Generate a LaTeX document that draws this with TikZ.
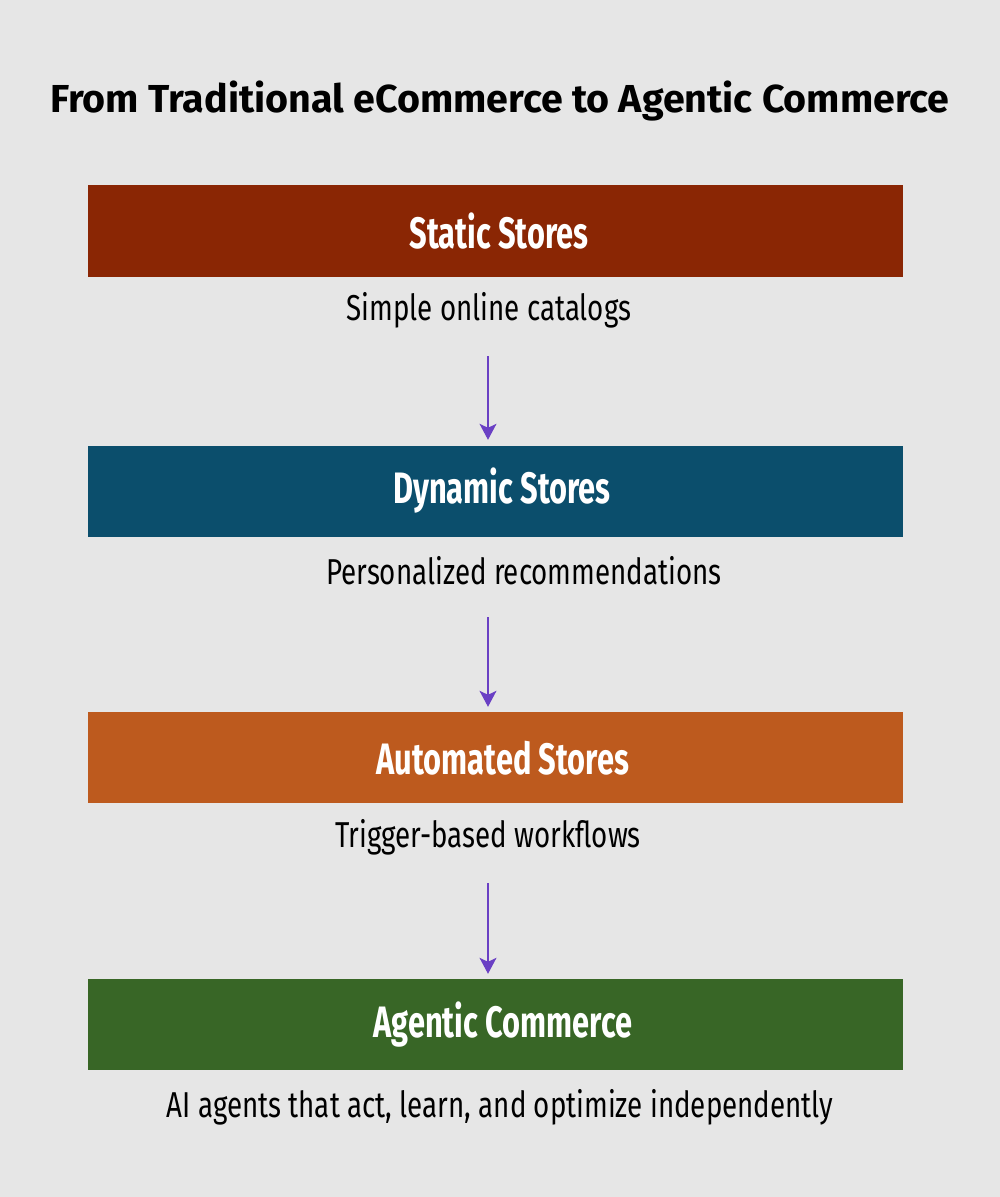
\documentclass[tikz,border=0pt]{standalone}
\usepackage{fontspec}
\setmainfont{Fira Sans}[FakeStretch=0.7]
\newfontfamily\headfont{Fira Sans}[FakeStretch=1.01]
\newfontfamily\notefont{Fira Sans}[FakeStretch=0.77]
\usetikzlibrary{arrows.meta}

\definecolor{bgGray}{RGB}{230,230,230}
\definecolor{staticRed}{RGB}{138,38,4}
\definecolor{dynamicBlue}{RGB}{11,78,108}
\definecolor{autoOrange}{RGB}{189,90,30}
\definecolor{agenticGreen}{RGB}{56,102,38}
\definecolor{flowPurple}{RGB}{106,64,196}

\tikzset{
  stage/.style={minimum width=815, minimum height=92, inner sep=0, text=white,
    font=\fontsize{44}{48}\selectfont\bfseries},
  caption/.style={inner sep=0, text=black, font=\notefont\fontsize{36}{40}\selectfont},
  flow/.style={draw=flowPurple, line width=1.3, -{Stealth[length=16,width=17,inset=4]}}
}

\begin{document}
\begin{tikzpicture}[x=1pt,y=1pt,yscale=-1,xscale=1]
%set diagram to the size of the reference
\useasboundingbox (0,0) rectangle (1000,1197);
\fill[bgGray] (0,0) rectangle (1000,1197);

% Title
\node (title) at (500,101) [font=\headfont\fontsize{39}{43}\selectfont\bfseries] {From Traditional eCommerce to Agentic Commerce};

% Stage boxes
\fill[staticRed] (88,185) rectangle (903,277);
\node (static) at (499,231) [stage] {Static Stores};
\fill[dynamicBlue] (88,446) rectangle (903,537);
\node (dynamic) at (502,491) [stage] {Dynamic Stores};
\fill[autoOrange] (88,712) rectangle (903,803);
\node (auto) at (503,758) [stage] {Automated Stores};
\fill[agenticGreen] (88,979) rectangle (903,1070);
\node (agentic) at (503,1025) [stage] {Agentic Commerce};

% Text Node
\node (staticTxt) at (489,310) [caption] {Simple online catalogs};
% Text Node
\node (dynamicTxt) at (524,571) [caption] {Personalized recommendations};
% Text Node
\node (autoTxt) at (488,837) [caption] {Trigger-based workflows};
% Text Node
\node (agenticTxt) at (500,1107) [caption] {AI agents that act, learn, and optimize independently};

% Arrows
\coordinate (a1) at (488,356);
\coordinate (a2) at (488,617);
\coordinate (a3) at (488,883);
\draw[flow] (a1) -- ([yshift=-5]a1 |- dynamic.north);
\draw[flow] (a2) -- ([yshift=-5]a2 |- auto.north);
\draw[flow] (a3) -- ([yshift=-5]a3 |- agentic.north);

\end{tikzpicture}
\end{document}
